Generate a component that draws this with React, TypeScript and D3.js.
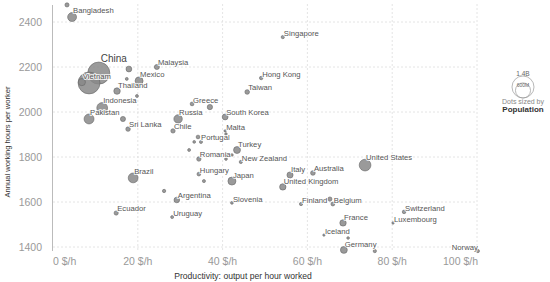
import React from "react";
import * as d3 from "d3";

const labels = ["Bangladesh","China","","Vietnam","Pakistan","Indonesia","Thailand","Mexico","Malaysia","Sri Lanka","Russia","Chile","Greece","South Korea","Malta","Portugal","Turkey","Romania","New Zealand","Hungary","Japan","Italy","Australia","United Kingdom","United States","Finland","Belgium","Slovenia","Argentina","Uruguay","Ecuador","Brazil","France","Iceland","Germany","Switzerland","Luxembourg","Norway","Singapore","Hong Kong","Taiwan","","","","","","","","","","","","","","","","",""];
const productivity = [4.5,10.8,8.5,6.8,8.5,11.6,15.1,20.3,24.5,17.7,29.5,28.3,32.8,40.6,40.6,34.2,43.4,34.4,44.3,34.4,42.2,55.9,61.3,54.2,73.6,58.5,66.0,42.2,29.2,28.1,14.9,18.9,68.4,63.9,68.6,82.8,80.2,100.2,54.2,49.1,45.8,3.3,17.9,17.4,19.8,16.5,37.0,40.8,33.3,34.9,32.1,40.8,42.2,35.6,26.2,65.3,69.6,75.9];
const hours = [2422,2173,2129,2133,1969,2018,2093,2138,2200,1924,1969,1916,2036,1978,1916,1889,1831,1791,1778,1724,1693,1720,1729,1667,1764,1591,1591,1596,1609,1533,1551,1707,1507,1453,1387,1556,1507,1382,2333,2151,2089,2476,2191,2147,2071,1969,2022,1902,1867,1867,1831,1791,1809,1693,1649,1613,1440,1382];
const population = [165,1410,1380,97,220,270,70,126,32,22,145,19,11,52,0.5,10,84,19,5,10,126,60,25,67,330,5.5,11.5,2,45,3.5,17,212,67,0.4,83,8.6,0.6,5.4,5.7,7.5,24,16,50,3,3,33,38,1.2,2,4,3,2,1.3,4,6,17,1.5,5.8];
const xTicks = [0,20,40,60,80,100];
const yTicks = [1400,1600,1800,2000,2200,2400];
const legendValues = [1400,600];
const legendLabels = ["1.4B","600M"];

const labelAnchor: Record<string,string> = { Portugal: "right", Norway: "left" };

export default function App() {
  const W = 550, H = 282;
  const x = d3.scaleLinear().domain([0,100]).range([53,477]);
  const y = d3.scaleLinear().domain([1380,2480]).range([251.5,4]);
  const r = d3.scaleSqrt().domain([0,1400]).range([1,11]);
  const pts = labels.map((name,i)=>({name, v:productivity[i], h:hours[i], p:population[i]}))
    .sort((a,b)=>b.p-a.p);
  const font = "'Liberation Sans', Arial, sans-serif";
  const lr = r(legendValues[0]);
  const lcx = 523, lbase = 98;
  return (
    <svg width={W} height={H} style={{position:"absolute",left:0,top:0,background:"#fff"}} fontFamily={font}>
      {yTicks.map(t=>(
        <line key={"gy"+t} x1={53} x2={477} y1={y(t)} y2={y(t)} stroke="#ddd" strokeDasharray="2,2" strokeWidth={0.8}/>
      ))}
      {xTicks.filter(t=>t>0).map(t=>(
        <line key={"gx"+t} x1={x(t)} x2={x(t)} y1={4} y2={251} stroke="#ddd" strokeDasharray="2,2" strokeWidth={0.8}/>
      ))}
      <line x1={52.5} x2={52.5} y1={5} y2={251} stroke="#bbb" strokeWidth={1}/>
      {yTicks.map(t=>(
        <text key={"ty"+t} x={42} y={y(t)} dy="0.35em" textAnchor="end" fontSize={10.5} fill="#999">{t}</text>
      ))}
      {xTicks.map((t,i)=>(
        <text key={"tx"+t} x={i===0?53:i===xTicks.length-1?478:x(t)} y={265} textAnchor={i===0?"start":i===xTicks.length-1?"end":"middle"} fontSize={10.5} fill="#999">{t} $/h</text>
      ))}
      <text x={243} y={279} textAnchor="middle" fontSize={8.6} fill="#333">Productivity: output per hour worked</text>
      <text transform="translate(10,142) rotate(-90)" textAnchor="middle" fontSize={7.6} fill="#333">Annual working hours per worker</text>
      {pts.map((d,i)=>(
        <circle key={"c"+i} cx={x(d.v)} cy={y(d.h)} r={r(d.p)} fill="#888" fillOpacity={0.85} stroke="#666" strokeWidth={0.6}/>
      ))}
      {pts.filter(d=>d.name).map((d,i)=>{
        const cx = x(d.v), cy = y(d.h), rr = Math.max(r(d.p),1.5);
        const a = labelAnchor[d.name];
        const big = d.name==="China";
        let tx = cx+1, ty = cy-rr+0.5, anchor = "start";
        if (a==="right") { tx = cx+3; ty = cy+3; }
        if (a==="left") { tx = cx; ty = cy-1; anchor = "end"; }
        if (big) { tx = cx+2; ty = cy-rr-0.5; }
        return (
          <text key={"l"+i} x={tx} y={ty} textAnchor={anchor} fontSize={big?10:7.7} fill={big?"#444":"#555"}
            stroke="#fff" strokeWidth={2} strokeOpacity={0.8} paintOrder="stroke" strokeLinejoin="round">{d.name}</text>
        );
      })}
      {legendValues.map((v,i)=>(
        <circle key={"lg"+i} cx={lcx} cy={lbase-r(v)} r={r(v)} fill="none" stroke="#999" strokeWidth={0.7}/>
      ))}
      <text x={lcx} y={lbase-2*lr-0.5} textAnchor="middle" fontSize={6.5} fill="#666">{legendLabels[0]}</text>
      <text x={lcx} y={lbase-2*r(legendValues[1])+4.5} textAnchor="middle" fontSize={5} fill="#666">{legendLabels[1]}</text>
      <text x={lcx} y={104} textAnchor="middle" fontSize={7} fill="#888">Dots sized by</text>
      <text x={lcx} y={112} textAnchor="middle" fontSize={8} fontWeight="bold" fill="#333">Population</text>
    </svg>
  );
}
